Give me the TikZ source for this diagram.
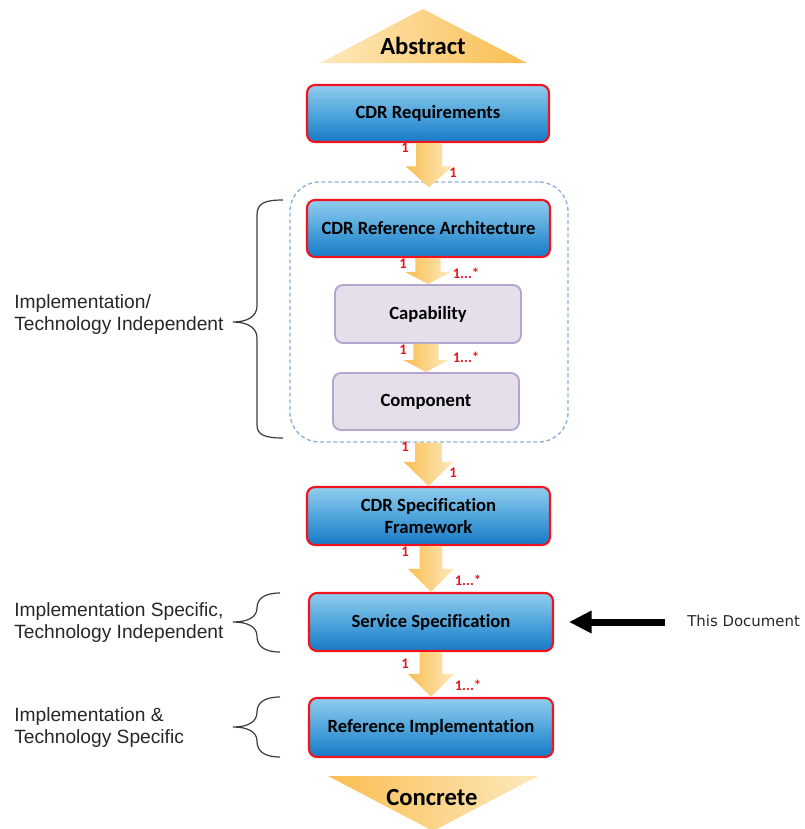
\documentclass[tikz,border=0pt]{standalone}
\usepackage{fontspec}
\setmainfont{Carlito}[Ligatures=NoCommon]
\newfontfamily\arialf{Liberation Sans}
\newfontfamily\dejaf{DejaVu Sans}
\usetikzlibrary{calc,arrows.meta}
\definecolor{boxred}{RGB}{240,20,30}
\definecolor{bluetop}{RGB}{145,205,238}
\definecolor{bluemid}{RGB}{80,165,220}
\definecolor{bluebot}{RGB}{22,122,198}
\definecolor{lavfill}{RGB}{229,223,236}
\definecolor{lavdraw}{RGB}{180,165,205}
\definecolor{dashblue}{RGB}{141,176,222}
\definecolor{orangedark}{RGB}{249,190,82}
\definecolor{orangelight}{RGB}{254,233,188}
\definecolor{bracegrey}{RGB}{60,60,60}
\definecolor{textgrey}{RGB}{40,40,40}
\definecolor{labred}{RGB}{235,20,30}
\newcommand\fatarr[5]{%
  \path[arrowshade] let \p1=(#1), \p2=(#2) in
   (\x2-#3,\y1) -- (\x2-#3,\y2+#5) -- (\x2-#4,\y2+#5) -- (\x2,\y2)
   -- (\x2+#4,\y2+#5) -- (\x2+#3,\y2+#5) -- (\x2+#3,\y1) -- cycle;}
\begin{document}
\begin{tikzpicture}[x=0.75pt,y=-0.75pt,
  bluebox/.style={rectangle, rounded corners=6pt, draw=boxred, line width=1.6pt,
     top color=bluetop, bottom color=bluebot, middle color=bluemid, inner sep=0pt,
     font=\fontsize{14}{16}\selectfont\bfseries, text=black, align=center},
  lavbox/.style={rectangle, rounded corners=6pt, draw=lavdraw, line width=1.4pt,
     fill=lavfill, inner sep=0pt, font=\fontsize{14}{16}\selectfont\bfseries, text=black},
  arrowshade/.style={left color=orangedark, right color=orangelight},
  mult/.style={font=\fontsize{11}{12}\selectfont\bfseries, text=labred, inner sep=0pt},
  sidetext/.style={font=\arialf\fontsize{14.4}{16.5}\selectfont, text=textgrey, align=left, anchor=west, inner sep=0pt},
  bracestyle/.style={draw=bracegrey, line width=0.9pt}
]
\useasboundingbox[fill=white] (0,0) rectangle (804,829);

% Abstract / Concrete triangles
\path[left color=orangelight, right color=orangedark] (423,9) -- (527,63) -- (320,63) -- cycle;
\node[font=\fontsize{18.5}{20}\selectfont\bfseries, inner sep=0pt] (abs) at (423,46) {Abstract};
\path[left color=orangedark, right color=orangelight] (328,776) -- (538,776) -- (433,831) -- cycle;
\node[font=\fontsize{18.5}{20}\selectfont\bfseries, inner sep=0pt] (con) at (432,797) {Concrete};

% dashed group
\node[draw=dashblue, dashed, dash pattern=on 3pt off 2pt, line width=1pt, rounded corners=22pt,
      minimum width=208.5pt, minimum height=195pt, inner sep=0pt] (grp) at (429,312) {};

% boxes
\node[bluebox, minimum width=181.5pt, minimum height=42.75pt] (req) at (428,113.5) {CDR Requirements};
\node[bluebox, minimum width=182.25pt, minimum height=42.75pt] (arch) at (428.5,228.5) {CDR Reference Architecture};
\node[lavbox, minimum width=139.5pt, minimum height=43.5pt] (cap) at (428,314) {Capability};
\node[lavbox, minimum width=139.5pt, minimum height=42.75pt] (comp) at (426,401.5) {Component};
\node[bluebox, minimum width=182.25pt, minimum height=43.5pt] (frame) at (428.5,516) {CDR Specification\\Framework};
\node[bluebox, minimum width=183pt, minimum height=43.5pt] (serv) at (431,622) {Service Specification};
\node[bluebox, minimum width=183pt, minimum height=44.25pt] (impl) at (431,727.5) {Reference Implementation};

% fat arrows
\fatarr{req.south}{[yshift=-4.5pt]grp.north}{9.75pt}{17.6pt}{15.75pt}
\fatarr{arch.south}{cap.north}{9.4pt}{16.9pt}{9pt}
\fatarr{cap.south}{comp.north}{9.4pt}{16.9pt}{9pt}
\fatarr{grp.south}{frame.north}{10.1pt}{18.5pt}{18pt}
\fatarr{frame.south}{serv.north}{8.6pt}{17.2pt}{17.25pt}
\fatarr{serv.south}{impl.north}{8.6pt}{17.2pt}{17.25pt}

% multiplicities
\node[mult] (m1a) at (405,148) {1};
\node[mult] (m1b) at (453,173) {1};
\node[mult] (m2a) at (403,264) {1};
\node[mult] (m2b) at (466,273) {1...*};
\node[mult] (m3a) at (403,350) {1};
\node[mult] (m3b) at (466,357) {1...*};
\node[mult] (m4a) at (405,447) {1};
\node[mult] (m4b) at (453,473) {1};
\node[mult] (m5a) at (405,552) {1};
\node[mult] (m5b) at (468,580) {1...*};
\node[mult] (m6a) at (405,664) {1};
\node[mult] (m6b) at (468,685) {1...*};

% braces
\draw[bracestyle] (283,200) .. controls (265,200) and (257,203) .. (257,215) -- (257,306)
   .. controls (257,316) and (248,322) .. (233,322) .. controls (248,322) and (257,328) .. (257,338)
   -- (257,425) .. controls (257,435) and (265,438) .. (283,438);
\draw[bracestyle] (280,593) .. controls (264,593) and (257,599) .. (257,608)
   .. controls (257,617) and (248,622) .. (233,622) .. controls (248,622) and (257,627) .. (257,636)
   .. controls (257,646) and (264,652) .. (280,652);
\draw[bracestyle] (280,697) .. controls (264,697) and (257,703) .. (257,712)
   .. controls (257,722) and (248,727) .. (233,727) .. controls (248,727) and (257,732) .. (257,741)
   .. controls (257,751) and (264,757) .. (280,757);

% side texts
\node[sidetext] (t1) at (14,315) {Implementation/\\Technology Independent};
\node[sidetext] (t2) at (14,623) {Implementation Specific,\\Technology Independent};
\node[sidetext] (t3) at (14,728) {Implementation \&\\Technology Specific};

% this document
\node[font=\dejaf\fontsize{11.2}{13}\selectfont, text=textgrey, anchor=west, inner sep=0pt] (doc) at (687,621) {This Document};
\coordinate (dt) at (665,622);
\coordinate (dh) at (569,622);
\draw[line width=5.25pt, -{Triangle[length=17pt,width=16pt]}] (dt) -- (dh);
\end{tikzpicture}
\end{document}
